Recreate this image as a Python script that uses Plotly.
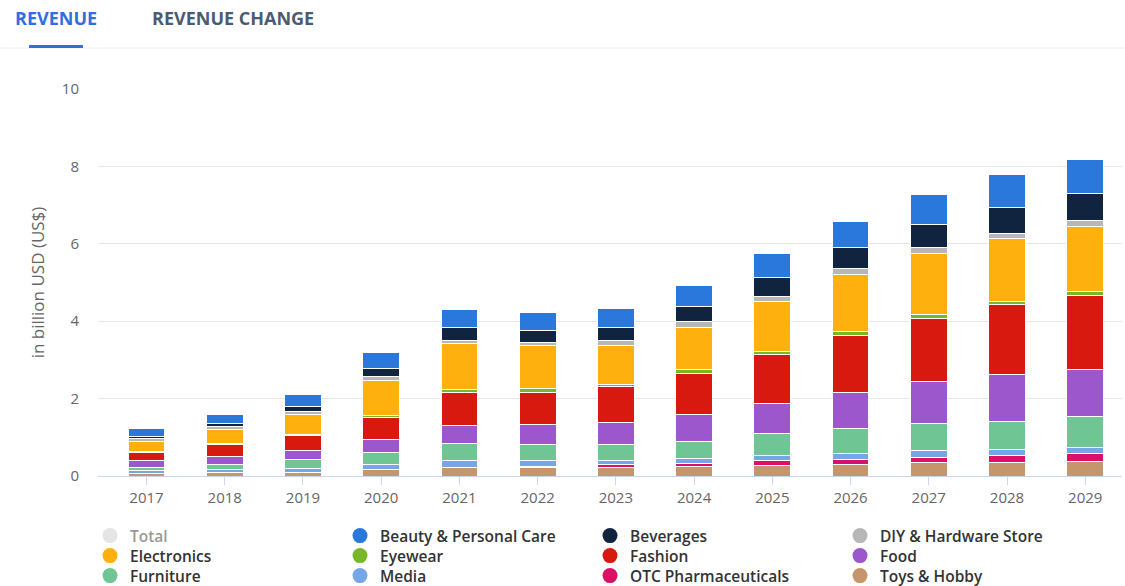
import plotly.graph_objects as go

# Revenue by segment, billion USD
years = ["2017", "2018", "2019", "2020", "2021", "2022", "2023",
         "2024", "2025", "2026", "2027", "2028", "2029"]
totals = [1.22, 1.60, 2.11, 3.18, 4.29, 4.23, 4.32, 4.93, 5.74, 6.58, 7.28, 7.79, 8.18]

beauty = [0.21, 0.24, 0.31, 0.40, 0.46, 0.46, 0.48, 0.54, 0.60, 0.68, 0.79, 0.84, 0.87]
beverages = [0.05, 0.07, 0.13, 0.22, 0.32, 0.31, 0.34, 0.40, 0.50, 0.54, 0.58, 0.69, 0.72]
diy = [0.06, 0.10, 0.08, 0.09, 0.09, 0.10, 0.13, 0.14, 0.13, 0.15, 0.17, 0.13, 0.15]
electronics = [0.27, 0.35, 0.52, 0.90, 1.18, 1.11, 1.01, 1.11, 1.28, 1.48, 1.57, 1.61, 1.67]
eyewear = [0.01, 0.02, 0.02, 0.05, 0.08, 0.08, 0.06, 0.09, 0.09, 0.09, 0.09, 0.10, 0.10]
fashion = [0.22, 0.32, 0.40, 0.58, 0.85, 0.85, 0.92, 1.05, 1.26, 1.48, 1.63, 1.81, 1.91]
food = [0.17, 0.19, 0.22, 0.34, 0.47, 0.50, 0.57, 0.70, 0.78, 0.93, 1.09, 1.19, 1.22]
furniture = [0.10, 0.15, 0.23, 0.31, 0.43, 0.43, 0.40, 0.45, 0.56, 0.64, 0.71, 0.74, 0.80]
media = [0.06, 0.08, 0.11, 0.12, 0.18, 0.15, 0.11, 0.12, 0.13, 0.16, 0.16, 0.16, 0.17]
otc = [0.00, 0.00, 0.00, 0.01, 0.00, 0.01, 0.08, 0.09, 0.15, 0.13, 0.15, 0.18, 0.19]
toys = [0.07, 0.08, 0.09, 0.16, 0.23, 0.23, 0.22, 0.24, 0.26, 0.30, 0.34, 0.34, 0.38]

# (name, values, colour) in legend order; stacked bottom-up in reverse
segments = [
    ("Beauty & Personal Care", beauty, "#2a78dc"),
    ("Beverages", beverages, "#10233f"),
    ("DIY & Hardware Store", diy, "#b7b7b7"),
    ("Electronics", electronics, "#feb00f"),
    ("Eyewear", eyewear, "#78b72a"),
    ("Fashion", fashion, "#d7190f"),
    ("Food", food, "#9d57cc"),
    ("Furniture", furniture, "#70c594"),
    ("Media", media, "#76a6e6"),
    ("OTC Pharmaceuticals", otc, "#dc0f66"),
    ("Toys & Hobby", toys, "#c5966b"),
]

FONT = "Open Sans"
W, H = 1125, 586
PX0, PW = 98, 1024
PY0, PH = 476, 387

fig = go.Figure()

for name, vals, color in reversed(segments):
    fig.add_trace(go.Bar(
        x=years, y=vals, name=name, legendgroup=name, showlegend=False,
        marker=dict(color=color, line=dict(color="white", width=1)),
    ))

# Legend entries as round markers, four per row, one legend per row
legend_items = [("Total", "#cccccc")] + [(n, c) for n, _, c in segments]
legend_ids = ["legend", "legend2", "legend3"]
for i, (name, color) in enumerate(legend_items):
    fig.add_trace(go.Scatter(
        x=[None], y=[None], mode="markers", name=name, legendgroup=name,
        legend=legend_ids[i // 4],
        marker=dict(symbol="circle", size=15, color=color),
        visible="legendonly" if name == "Total" else True,
    ))

for yr, tot in zip(years, totals):
    fig.add_annotation(
        x=yr, y=tot, text=f"<b>{tot:.2f}</b>", showarrow=False,
        yanchor="bottom", yshift=3,
        font=dict(family=FONT, size=15, color="#222222"),
    )


def px(x):
    return (x - PX0) / PW


def py(y):
    return (PY0 - y) / PH


# Tab header
fig.add_annotation(xref="paper", yref="paper", x=px(13), y=py(18), xanchor="left",
                   yanchor="middle", showarrow=False, text="<b>REVENUE</b>",
                   font=dict(family=FONT, size=18, color="#2f70e0"))
fig.add_annotation(xref="paper", yref="paper", x=px(150), y=py(18), xanchor="left",
                   yanchor="middle", showarrow=False, text="<b>REVENUE CHANGE</b>",
                   font=dict(family=FONT, size=18, color="#4b5b70"))
fig.add_shape(type="line", xref="paper", yref="paper", x0=px(0), x1=px(1125),
              y0=py(48), y1=py(48), line=dict(color="#eef0f3", width=1))
fig.add_shape(type="line", xref="paper", yref="paper", x0=px(29), x1=px(83),
              y0=py(46.5), y1=py(46.5), line=dict(color="#2f70e0", width=3))

legend_style = dict(
    orientation="h", xref="container", yref="container",
    x=90 / W, xanchor="left", yanchor="middle",
    entrywidth=205, entrywidthmode="pixels", traceorder="normal",
    font=dict(family=FONT, size=15.5, color="#333333", weight=600),
    itemclick=False, itemdoubleclick=False, bgcolor="rgba(0,0,0,0)",
)
row_y = [536, 556, 576]

fig.update_layout(
    width=W, height=H,
    margin=dict(l=PX0, r=W - PX0 - PW, t=PY0 - PH, b=H - PY0, autoexpand=False),
    barmode="stack", bargap=0.53,
    plot_bgcolor="white", paper_bgcolor="white",
    font=dict(family=FONT, color="#666666"),
    xaxis=dict(
        type="category", range=[-0.62, 12.47],
        showgrid=False, showline=True, linecolor="#ccd6eb", linewidth=1,
        ticks="outside", ticklen=8, tickcolor="#ccd6eb",
        tickfont=dict(family=FONT, size=15, color="#666666"),
    ),
    yaxis=dict(
        range=[0, 10], dtick=2, showgrid=True, gridcolor="#e6e6e6",
        zeroline=False, showline=False, ticks="",
        ticklabelstandoff=18,
        tickfont=dict(family=FONT, size=15, color="#666666"),
        title=dict(text="in billion USD (US$)", standoff=12,
                   font=dict(family=FONT, size=17, color="#666666")),
    ),
    legend=dict(y=1 - row_y[0] / H, **legend_style),
    legend2=dict(y=1 - row_y[1] / H, **legend_style),
    legend3=dict(y=1 - row_y[2] / H, **legend_style),
    showlegend=True,
)

fig.write_html("out.html")
